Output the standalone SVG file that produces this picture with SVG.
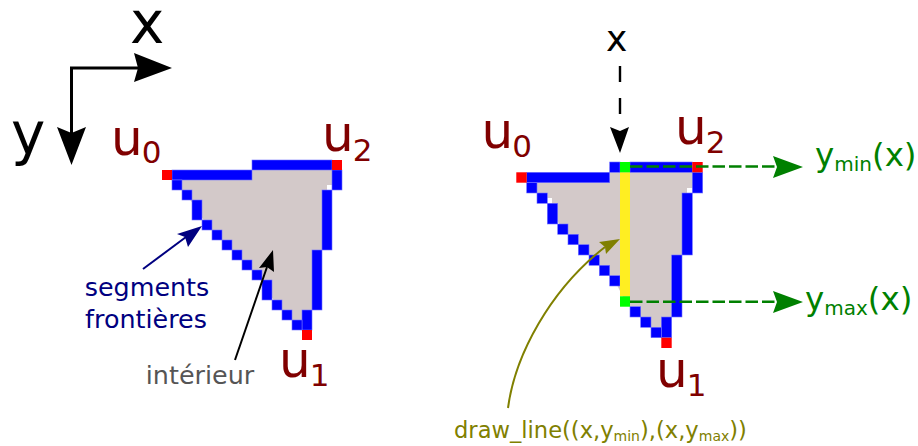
<svg xmlns="http://www.w3.org/2000/svg" width="918" height="446" viewBox="0 0 918 446">
<style>
text{font-family:"DejaVu Sans",sans-serif}
.b{fill:#0000ff;stroke:#7070ff;stroke-width:.6}
.r{fill:#ff0000}
.g{fill:#00ff00}
.u{fill:#800000;font-size:50px}
.us{font-size:31px}
.i{fill:#d3c9c9}
.gt{fill:#008000;font-size:32.5px}
.gs{font-size:20px}
.ol{fill:#808000;font-size:22.6px}
.os{font-size:14px}
.n{fill:#000080;font-size:25.4px;text-anchor:middle}
</style>
<rect width="918" height="446" fill="#fff"/>
<g id="triangle-left">
<path class="i" d="M177 175H252V165H337V185H327V250H317V310H307V325H297L287 315L277 305L267 290L257 275L207 225L197 210L187 195L177 185Z"/>
<g class="b">
<rect x="172" y="170" width="80" height="10"/><rect x="252" y="160" width="80" height="10"/>
<rect x="332" y="170" width="10" height="20"/><rect x="322" y="190" width="10" height="60"/><rect x="312" y="250" width="10" height="60"/>
<rect x="302" y="310" width="10" height="20"/><rect x="292" y="320" width="10" height="10"/>
<rect x="282" y="310" width="10" height="10"/><rect x="272" y="300" width="10" height="10"/><rect x="262" y="280" width="10" height="20"/>
<rect x="252" y="270" width="10" height="10"/><rect x="242" y="260" width="10" height="10"/><rect x="232" y="250" width="10" height="10"/>
<rect x="222" y="240" width="10" height="10"/><rect x="212" y="230" width="10" height="10"/><rect x="202" y="220" width="10" height="10"/>
<rect x="192" y="200" width="10" height="20"/><rect x="182" y="190" width="10" height="10"/><rect x="172" y="180" width="10" height="10"/>
</g>
<rect class="r" x="162" y="170" width="10" height="10"/>
<rect class="r" x="332" y="160" width="10" height="10"/>
<rect class="r" x="302" y="330" width="10" height="10"/>
</g>
<g id="triangle-right">
<path class="i" d="M532 178H609.7V167H697V188H687V255H677V317H666V332H656L646 322L635 312L625 301L615 281L604 270L594 260L583 250L573 239L563 229L552 214V198H542L532 188Z"/>
<g class="b">
<rect x="526.7" y="172.3" width="83" height="10.4"/><rect x="609.7" y="162" width="10.3" height="10.3"/><rect x="630" y="162" width="62.3" height="10.3"/>
<rect x="692.3" y="172.3" width="10.4" height="20.7"/><rect x="682" y="193" width="10.3" height="62"/><rect x="671.7" y="255" width="10.3" height="62"/>
<rect x="661.3" y="317" width="10.4" height="20.7"/><rect x="651" y="327.3" width="10.3" height="10.4"/>
<rect x="640.7" y="317" width="10.3" height="10.3"/><rect x="630" y="306.7" width="10.7" height="10.3"/>
<rect x="609.7" y="275.7" width="10.3" height="10.3"/><rect x="599.3" y="265.3" width="10.4" height="10.4"/><rect x="589" y="255" width="10.3" height="10.3"/>
<rect x="578.3" y="244.7" width="10.7" height="10.3"/><rect x="568" y="234.3" width="10.3" height="10.4"/><rect x="557.7" y="224" width="10.3" height="10.3"/>
<rect x="547.3" y="203.3" width="10.4" height="20.7"/><rect x="537" y="193" width="10.3" height="10.3"/><rect x="526.7" y="182.7" width="10.3" height="10.3"/>
</g>
<rect x="620" y="172.3" width="10" height="124" fill="#ffee22"/>
<rect class="g" x="620" y="162" width="10" height="10.3"/>
<rect class="g" x="620" y="296.3" width="10" height="10.4"/>
<rect class="r" x="516.3" y="172.3" width="10.4" height="10.4"/>
<rect class="r" x="692.3" y="162" width="10.4" height="10.3"/>
<rect class="r" x="661.3" y="337.7" width="10.4" height="10.3"/>
</g>
<g id="connectors">
<path d="M71.5 135V68H140" fill="none" stroke="#000" stroke-width="3"/>
<path d="M134 53L172 68L134 82L138 68Z"/>
<path d="M57 127L71.5 165L86 127L71.5 133Z"/>
<path d="M143 269L186 237" fill="none" stroke="#000080" stroke-width="2"/>
<path d="M202 226L188 247L185 237L177 234Z" fill="#000080"/>
<path d="M235 360L267 267" fill="none" stroke="#000" stroke-width="2"/>
<path d="M273 250L274 272L267 267L259 268Z"/>
<path d="M620 66V125" fill="none" stroke="#000" stroke-width="2.4" stroke-dasharray="16 16"/>
<path d="M610 127L620 153L629 127L620 131Z"/>
<path d="M630 166.5H777" fill="none" stroke="#008000" stroke-width="2.4" stroke-dasharray="12.5 4"/>
<path d="M773 156L803 167L773 178L777 167Z" fill="#008000"/>
<path d="M630 301.7H777" fill="none" stroke="#008000" stroke-width="2.4" stroke-dasharray="12.5 4"/>
<path d="M773 291L803 302L773 313L777 302Z" fill="#008000"/>
<path d="M508 408C515 355 550 290 605 247" fill="none" stroke="#808000" stroke-width="2"/>
<path d="M620 239L606 254L605 247L599 242Z" fill="#808000"/>
</g>
<g id="labels">
<text x="130" y="43" font-size="58">x</text>
<text x="11" y="154" font-size="58">y</text>
<text class="u" x="111" y="155">u<tspan class="us" dy="8" dx="-1">0</tspan></text>
<text class="u" x="322" y="151">u<tspan class="us" dy="9.5" dx="-1">2</tspan></text>
<text class="u" x="279" y="377">u<tspan class="us" dy="9" dx="-1">1</tspan></text>
<text class="u" x="481.6" y="148">u<tspan class="us" dy="9" dx="-1">0</tspan></text>
<text class="u" x="675" y="144">u<tspan class="us" dy="9" dx="-1">2</tspan></text>
<text class="u" x="656" y="387">u<tspan class="us" dy="9" dx="-1">1</tspan></text>
<text x="606" y="51" font-size="36">x</text>
<text class="n" x="147" y="296">segments</text>
<text class="n" x="146" y="328">frontières</text>
<text x="200" y="384" text-anchor="middle" font-size="25.4" fill="#555">intérieur</text>
<text class="gt" x="815" y="165.5">y<tspan class="gs" dy="5">min</tspan><tspan dy="-5">(x)</tspan></text>
<text class="gt" x="805" y="309.5">y<tspan class="gs" dy="5.5">max</tspan><tspan dy="-5.5">(x)</tspan></text>
<text class="ol" x="454" y="438">draw_line((x,y<tspan class="os" dy="3">min</tspan><tspan dy="-3">),(x,y</tspan><tspan class="os" dy="3">max</tspan><tspan dy="-3">))</tspan></text>
</g>
</svg>
